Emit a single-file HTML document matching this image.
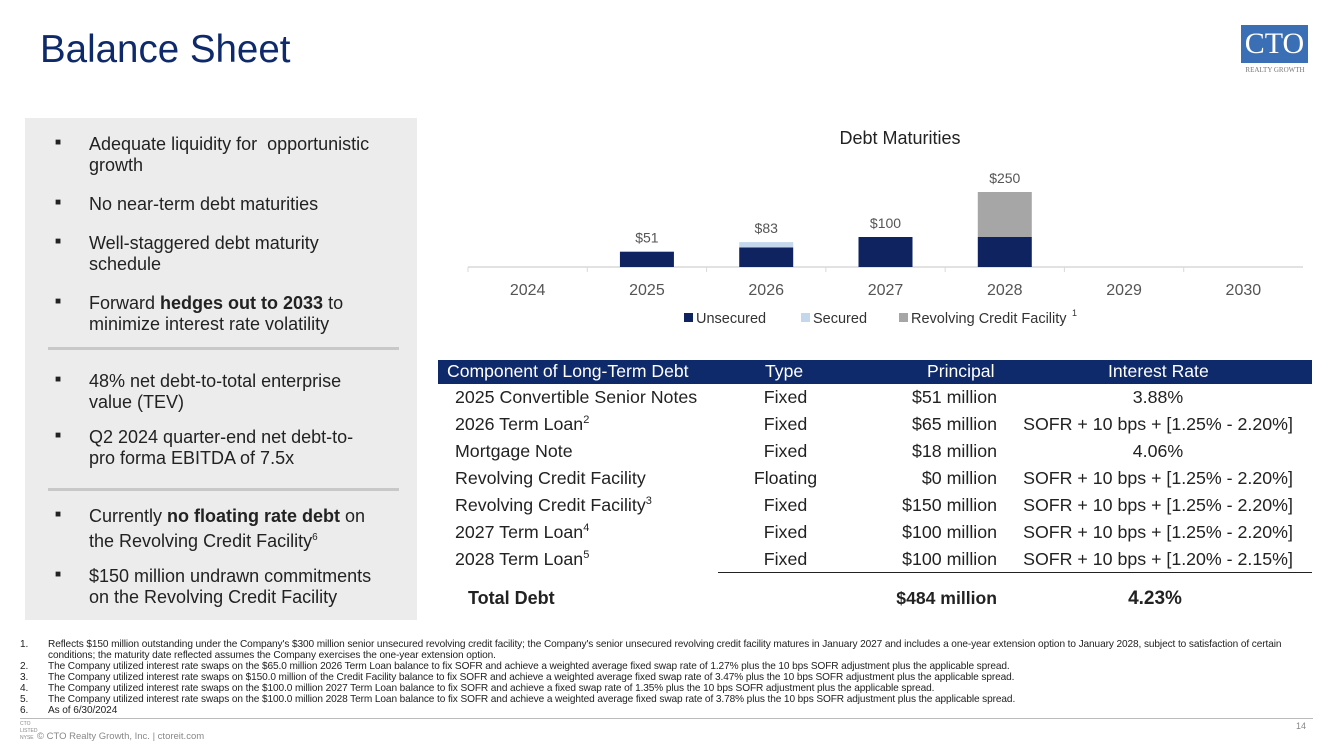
<!DOCTYPE html>
<html><head><meta charset="utf-8"><style>
*{margin:0;padding:0;box-sizing:border-box}
body{width:1333px;height:749px;background:#fff;font-family:"Liberation Sans",sans-serif;position:relative;overflow:hidden;color:#222}
.abs{position:absolute}
.b{position:absolute;left:55px;font-size:10px;color:#222}
.bt{position:absolute;left:89px;width:330px;font-size:18px;line-height:21px;color:#222;white-space:nowrap}
.fn{position:absolute;left:20px;font-size:10.1px;color:#222;white-space:nowrap;letter-spacing:-0.1px}
.fn span{display:inline-block;width:28px}
.row{position:absolute;left:438px;width:874px;height:27px;font-size:17.8px;color:#222}
.row div{position:absolute;top:1px;white-space:nowrap}
</style></head><body>
<div class="abs" style="left:40px;top:28px;font-size:38.5px;color:#0f2a6b">Balance Sheet</div>
<div class="abs" style="left:1241px;top:25px;width:67px;height:38px;background:#3a6fb5;color:#fff;font-family:'Liberation Serif',serif;font-size:30px;text-align:center;line-height:38px">CTO</div>
<div class="abs" style="left:1236px;top:66px;width:78px;text-align:center;font-family:'Liberation Serif',serif;font-size:7px;color:#777">REALTY GROWTH</div>

<div class="abs" style="left:25px;top:118px;width:392px;height:502px;background:#ececec"></div>
<div class="abs" style="left:48px;top:347px;width:351px;height:3px;background:#c8c8c8"></div>
<div class="abs" style="left:48px;top:488px;width:351px;height:3px;background:#c8c8c8"></div>
<div class="b" style="top:137px">■</div><div class="bt" style="top:134px">Adequate liquidity for &nbsp;opportunistic<br>growth</div>
<div class="b" style="top:197px">■</div><div class="bt" style="top:194px">No near-term debt maturities</div>
<div class="b" style="top:236px">■</div><div class="bt" style="top:233px">Well-staggered debt maturity<br>schedule</div>
<div class="b" style="top:296px">■</div><div class="bt" style="top:293px">Forward <b>hedges out to 2033</b> to<br>minimize interest rate volatility</div>
<div class="b" style="top:374px">■</div><div class="bt" style="top:371px">48% net debt-to-total enterprise<br>value (TEV)</div>
<div class="b" style="top:430px">■</div><div class="bt" style="top:427px">Q2 2024 quarter-end net debt-to-<br>pro forma EBITDA of 7.5x</div>
<div class="b" style="top:509px">■</div><div class="bt" style="top:506px">Currently <b>no floating rate debt</b> on<br>the Revolving Credit Facility<sup style="font-size:10px">6</sup></div>
<div class="b" style="top:569px">■</div><div class="bt" style="top:566px">$150 million undrawn commitments<br>on the Revolving Credit Facility</div>

<div class="abs" style="left:760px;top:128px;width:280px;text-align:center;font-size:18px;color:#222">Debt Maturities</div>
<svg id="chart" class="abs" style="left:0;top:0" width="1333" height="340"></svg>

<div class="abs" style="left:438px;top:360px;width:874px;height:24px;background:#0f2a6b;color:#fff;font-size:17.6px">
<div class="abs" style="left:9px;top:1px">Component of Long-Term Debt</div>
<div class="abs" style="left:327px;top:1px">Type</div>
<div class="abs" style="left:489px;top:1px">Principal</div>
<div class="abs" style="left:670px;top:1px">Interest Rate</div>
</div>
<div id="rows"></div>
<div class="abs" style="left:718px;top:572px;width:594px;height:1px;background:#222"></div>
<div class="abs" style="left:468px;top:588px;font-size:18px;font-weight:bold">Total Debt</div>
<div class="abs" style="left:800px;width:197px;text-align:right;top:588px;font-size:17.6px;font-weight:bold">$484 million</div>
<div class="abs" style="left:1055px;width:200px;text-align:center;top:588px;font-size:19px;font-weight:bold">4.23%</div>

<div class="fn" style="top:639px"><span>1.</span>Reflects $150 million outstanding under the Company's $300 million senior unsecured revolving credit facility; the Company's senior unsecured revolving credit facility matures in January 2027 and includes a one-year extension option to January 2028, subject to satisfaction of certain</div>
<div class="fn" style="top:650px"><span></span>conditions; the maturity date reflected assumes the Company exercises the one-year extension option.</div>
<div class="fn" style="top:661px"><span>2.</span>The Company utilized interest rate swaps on the $65.0 million 2026 Term Loan balance to fix SOFR and achieve a weighted average fixed swap rate of 1.27% plus the 10 bps SOFR adjustment plus the applicable spread.</div>
<div class="fn" style="top:672px"><span>3.</span>The Company utilized interest rate swaps on $150.0 million of the Credit Facility balance to fix SOFR and achieve a weighted average fixed swap rate of 3.47% plus the 10 bps SOFR adjustment plus the applicable spread.</div>
<div class="fn" style="top:683px"><span>4.</span>The Company utilized interest rate swaps on the $100.0 million 2027 Term Loan balance to fix SOFR and achieve a fixed swap rate of 1.35% plus the 10 bps SOFR adjustment plus the applicable spread.</div>
<div class="fn" style="top:694px"><span>5.</span>The Company utilized interest rate swaps on the $100.0 million 2028 Term Loan balance to fix SOFR and achieve a weighted average fixed swap rate of 3.78% plus the 10 bps SOFR adjustment plus the applicable spread.</div>
<div class="fn" style="top:705px"><span>6.</span>As of 6/30/2024</div>
<div class="abs" style="left:20px;top:718px;width:1293px;height:1px;background:#bbb"></div>
<div class="abs" style="left:20px;top:721px;font-size:5px;color:#888;line-height:7px">CTO<br>LISTED<br>NYSE</div>
<div class="abs" style="left:37px;top:731px;font-size:9.5px;color:#888">© CTO Realty Growth, Inc. | ctoreit.com</div>
<div class="abs" style="left:1296px;top:721px;font-size:9px;color:#888">14</div>

<script>
const years=["2024","2025","2026","2027","2028","2029","2030"];
const unsecured=[0,51,65,100,100,0,0];
const secured=[0,0,18,0,0,0,0];
const revolver=[0,0,0,0,150,0,0];
const totals=["","$51","$83","$100","$250","",""];
const NS="http://www.w3.org/2000/svg";
const svg=document.getElementById('chart');
const x0=468,x1=1303,base=267,k=0.3,bw=54;
const step=(x1-x0)/years.length;
const xc=i=>x0+step*(i+0.5);
const y=v=>base-v*k;
function mk(t,a){const e=document.createElementNS(NS,t);for(const n in a)e.setAttribute(n,a[n]);svg.appendChild(e);return e;}
let ax=mk('line',{x1:x0,x2:x1,y1:base,y2:base,stroke:'#d9d9d9','stroke-width':1.5});


years.forEach((yr,i)=>{
  let t=mk('line',{x1:x0+step*i,x2:x0+step*i,y1:base,y2:base+5,stroke:'#d9d9d9'});
  
  
  let lb=mk('text',{x:xc(i),y:base+28,'text-anchor':'middle','font-size':16,fill:'#555','font-family':'Liberation Sans'});
  lb.textContent=yr;
  
  
  let acc=0;
  [[unsecured,'#0f2360','bar-unsecured'],[secured,'#c5d7ec','bar-secured'],[revolver,'#a6a6a6','bar-revolver']].forEach(([arr,c,n])=>{
    const v=arr[i];if(!v)return;
    let r=mk('rect',{x:xc(i)-bw/2,y:y(acc+v),width:bw,height:v*k,fill:c});
    
    
    acc+=v;
  });
  if(totals[i]){
    let tl=mk('text',{x:xc(i),y:y(acc)-9,'text-anchor':'middle','font-size':14,fill:'#555','font-family':'Liberation Sans'});
    tl.textContent=totals[i];
    
    
  }
});
const leg=[["Unsecured","#0f2360",684],["Secured","#c5d7ec",801],["Revolving Credit Facility","#a6a6a6",899]];
leg.forEach(([n,c,lx])=>{
  let r=mk('rect',{x:lx,y:313,width:9,height:9,fill:c});
  
  
  let t=mk('text',{x:lx+12,y:323,'font-size':14.5,fill:'#333','font-family':'Liberation Sans'});
  t.textContent=n;
  
  
});
let sup=mk('text',{x:1072,y:316,'font-size':9,fill:'#333'});sup.textContent="1";



const rows=[
["2025 Convertible Senior Notes","","Fixed","$51 million","3.88%"],
["2026 Term Loan","2","Fixed","$65 million","SOFR + 10 bps + [1.25% - 2.20%]"],
["Mortgage Note","","Fixed","$18 million","4.06%"],
["Revolving Credit Facility","","Floating","$0 million","SOFR + 10 bps + [1.25% - 2.20%]"],
["Revolving Credit Facility","3","Fixed","$150 million","SOFR + 10 bps + [1.25% - 2.20%]"],
["2027 Term Loan","4","Fixed","$100 million","SOFR + 10 bps + [1.25% - 2.20%]"],
["2028 Term Loan","5","Fixed","$100 million","SOFR + 10 bps + [1.20% - 2.15%]"]];
const rc=document.getElementById('rows');
rows.forEach((r,i)=>{
  const d=document.createElement('div');d.className='row';d.style.top=(386+i*27)+'px';
  
  
  d.innerHTML=`<div style="left:17px">${r[0]}${r[1]?'<sup style="font-size:11px">'+r[1]+'</sup>':''}</div><div style="left:290px;width:115px;text-align:center">${r[2]}</div><div style="left:360px;width:199px;text-align:right">${r[3]}</div><div style="left:565px;width:310px;text-align:center">${r[4]}</div>`;
  rc.appendChild(d);
});
</script>
</body></html>
